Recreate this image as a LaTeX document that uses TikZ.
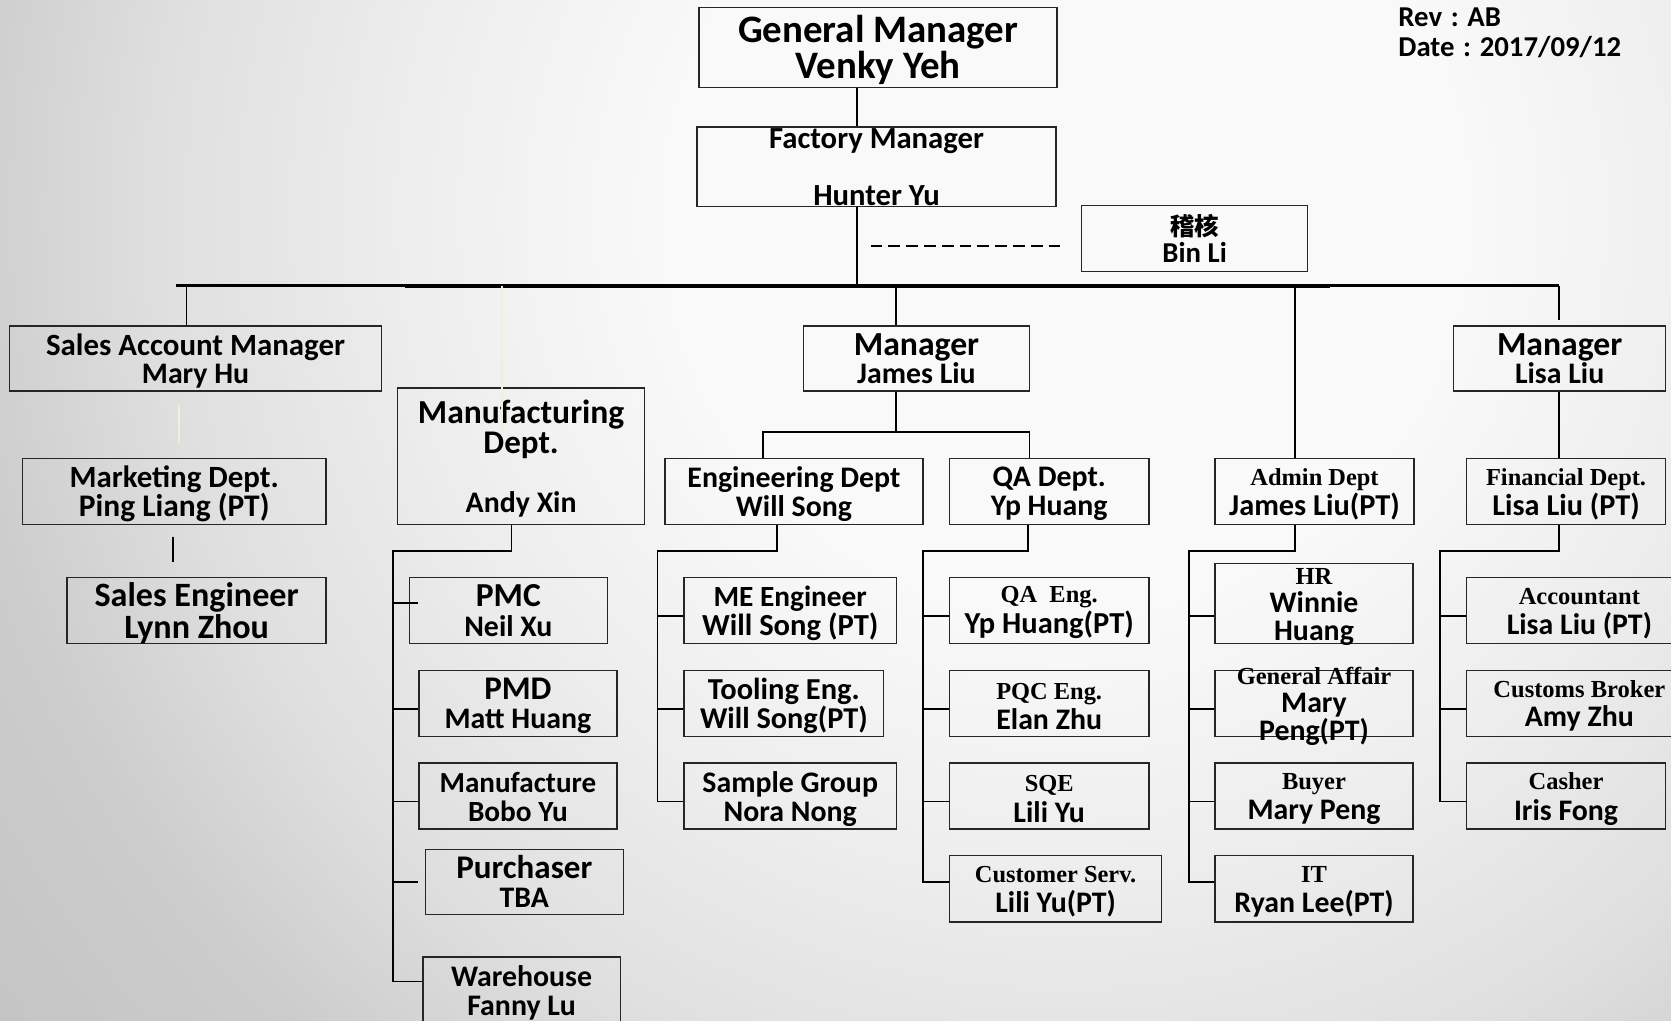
\documentclass[tikz,border=0pt]{standalone}
\usepackage{fontspec}
\setmainfont{Carlito}
\newfontfamily\serifb{Liberation Serif}
\newfontfamily\cjkf{Noto Sans CJK SC}
\definecolor{bgA}{gray}{0.975}
\definecolor{bgB}{gray}{0.93}
\definecolor{bgC}{gray}{0.875}
\definecolor{bgD}{gray}{0.80}
\definecolor{bgE}{gray}{0.765}
\definecolor{faintc}{RGB}{240,240,215}
\pgfdeclareradialshading{bgshade}{\pgfpoint{0bp}{0bp}}{color(0bp)=(bgA); color(6.8bp)=(bgA); color(11.1bp)=(bgB); color(15.2bp)=(bgC); color(18.75bp)=(bgD); color(23.2bp)=(bgE); color(50bp)=(bgE)}
\newcommand\myfs[2]{\fontsize{#1}{#2}\selectfont}
\newcommand\tsz[2]{{\fontsize{#1}{\the\baselineskip}\selectfont #2}}
\newcommand\rsz[2]{{\serifb\fontsize{#1}{\the\baselineskip}\selectfont #2}}
\newcommand\obox[7][]{%
  \node[boxst, minimum width=#5pt, minimum height=#6pt] (#2) at (#3,#4) {};
  \node[txt,#1] (#2t) at (#2.center) {#7};}
\begin{document}
\begin{tikzpicture}[x=1pt,y=-1pt,
  boxst/.style={draw=black!85, line width=1.3pt, inner sep=0pt},
  txt/.style={inner sep=0pt, align=center, font=\myfs{28}{27}\bfseries, text=black, yshift=-2.5pt},
  sertxt/.style={font=\myfs{28}{28.5}\bfseries, yshift=-0.25pt},
  conn/.style={draw=black, line width=1.7pt},
  busline/.style={draw=black, line width=2.2pt},
  faint/.style={draw=faintc, line width=1.2pt},
  dashline/.style={draw=black, line width=1.8pt, dash pattern=on 11pt off 5.7pt}]
\useasboundingbox (0,0) rectangle (1568,958);
\begin{scope}
\clip (0,0) rectangle (1568,958);
\shade[shading=bgshade] (-400,-1200) rectangle (2400,1600);
\end{scope}

% boxes
\obox[font=\myfs{36.5}{34}\bfseries]{gm}{824}{44.5}{336}{75}{General Manager\\Venky Yeh}
\obox[font=\myfs{28.8}{27}\bfseries, yshift=2pt]{fm}{822.5}{156.5}{337}{75}{Factory Manager\\\mbox{}\\Hunter Yu}
\obox[font=\myfs{27}{25}\bfseries, yshift=3pt]{aud}{1121}{224}{212}{62}{{\cjkf\fontsize{23}{25}\selectfont 稽核}\\Bin Li}
\obox[font=\myfs{28}{26}\bfseries]{sam}{183.5}{336.5}{349}{61}{\tsz{29}{Sales Account Manager}\\Mary Hu}
\obox[yshift=2.5pt]{mjl}{860}{336.5}{212}{61}{\tsz{31.6}{Manager}\\James Liu}
\obox[yshift=2.5pt]{mll}{1463.5}{336.5}{199}{61}{\tsz{31.6}{Manager}\\Lisa Liu}
\obox[font=\myfs{28}{28}\bfseries]{mfg}{489}{428}{232}{128}{\tsz{31.5}{Manufacturing}\\\tsz{31}{Dept.}\\\mbox{}\\Andy Xin}
\obox[font=\myfs{29}{27}\bfseries]{mkt}{163.5}{461}{285}{62}{Marketing Dept.\\\tsz{29.5}{Ping Liang (PT)}}
\obox[font=\myfs{32}{30}\bfseries]{se}{184.5}{573}{243}{62}{Sales Engineer\\Lynn Zhou}
\obox{eng}{745}{461}{242}{62}{Engineering Dept\\Will Song}
\obox{qa}{984.5}{461}{187}{62}{QA Dept.\\Yp Huang}
\obox[sertxt]{adm}{1233.5}{461}{187}{62}{\rsz{22.9}{Admin Dept}\\\tsz{28.5}{James Liu(PT)}}
\obox[sertxt]{fin}{1469.5}{461}{187}{62}{\rsz{22.9}{Financial Dept.}\\\tsz{28.4}{Lisa Liu (PT)}}
\obox[font=\myfs{28}{28}\bfseries, yshift=2.5pt]{pmc}{477}{573}{186}{62}{\tsz{31.5}{PMC}\\Neil Xu}
\obox{pmd}{486}{660}{186}{62}{\tsz{31}{PMD}\\Matt Huang}
\obox[yshift=1.5pt]{mfc}{486}{747}{186}{62}{\tsz{27.3}{Manufacture}\\\tsz{27.5}{Bobo Yu}}
\obox[font=\myfs{28}{28}\bfseries, yshift=3pt]{pur}{492}{827.5}{186}{61}{\tsz{31}{Purchaser}\\TBA}
\obox{wh}{489.5}{929}{185}{62}{Warehouse\\Fanny Lu}
\obox{me}{741.5}{573}{199}{62}{\tsz{27.5}{ME Engineer}\\\tsz{28.7}{Will Song (PT)}}
\obox{tool}{735.5}{660}{187}{62}{\tsz{28.6}{Tooling Eng.}\\\tsz{28.4}{Will Song(PT)}}
\obox{smp}{741.5}{747}{199}{62}{Sample Group\\Nora Nong}
\obox[sertxt, yshift=1pt]{qae}{984.5}{573}{187}{62}{\rsz{22.9}{QA\ \ Eng.}\\\tsz{28.6}{Yp Huang(PT)}}
\obox[sertxt]{pqc}{984.5}{660}{187}{62}{\rsz{22.9}{PQC Eng.}\\Elan Zhu}
\obox[sertxt]{sqe}{984.5}{747}{187}{62}{\rsz{22.9}{SQE}\\Lili Yu}
\obox[sertxt]{cs}{990.5}{834}{199}{62}{\rsz{22.9}{Customer Serv.}\\Lili Yu(PT)}
\obox[font=\myfs{28}{26}\bfseries, yshift=-0.5pt]{hr}{1233}{566.5}{186}{75}{\rsz{23}{HR}\\Winnie\\Huang}
\obox[font=\myfs{28}{26}\bfseries, yshift=-0.5pt]{ga}{1233}{660}{186}{62}{\rsz{23}{General Affair}\\Mary\\Peng(PT)}
\obox[sertxt]{buy}{1233}{747}{186}{62}{\rsz{23}{Buyer}\\Mary Peng}
\obox[sertxt]{it}{1233}{834}{186}{62}{\rsz{23}{IT}\\Ryan Lee(PT)}
\obox[sertxt]{acc}{1482}{573}{212}{62}{\rsz{23}{Accountant}\\Lisa Liu (PT)}
\obox[font=\myfs{28}{27}\bfseries, yshift=0pt]{cus}{1482}{660}{212}{62}{\rsz{23}{Customs Broker}\\Amy Zhu}
\obox[sertxt]{cash}{1469.5}{747}{187}{62}{\rsz{23}{Casher}\\Iris Fong}

\node[inner sep=0pt, anchor=west, align=left, font=\myfs{27}{28}\bfseries] (rev) at (1312,31) {Rev\hspace{.3em}:\hspace{.3em}AB\\Date\hspace{.3em}:\hspace{.3em}2017/09/12};

% top connectors
\coordinate (jtop) at (804,268);
\draw[conn] (gm.south -| jtop) -- (fm.north -| jtop);
\draw[conn] (fm.south -| jtop) -- (jtop);
\coordinate (dsA) at (817,231);
\draw[dashline, shorten >=15pt] (dsA) -- (dsA -| aud.west);
\coordinate (busL) at (165,268);
\coordinate (busR) at (1463,268);
\draw[busline] (busL) -- (busR);
\coordinate (busL2) at (380,269.6);
\coordinate (busR2) at (1248,269.6);
\draw[busline, line width=2pt] (busL2) -- (busR2);
\coordinate (dSam) at (175,268);
\draw[conn] (dSam) -- (dSam |- sam.north);
\coordinate (dMjl) at (841,268);
\draw[conn] (dMjl) -- (dMjl |- mjl.north);
\coordinate (dAdm) at (1215,268);
\draw[conn] (dAdm) -- (dAdm |- adm.north);
\draw[conn, shorten >=5pt] (busR) -- (busR |- mll.north);
\draw[conn] (mll.south -| busR) -- (fin.north -| busR);

% faint lines
\coordinate (fa1) at (471,268);
\coordinate (fa2) at (471,409);
\draw[faint] (fa1) -- (fa2);
\coordinate (fb1) at (168,380);
\coordinate (fb2) at (168,416);
\draw[faint] (fb1) -- (fb2);

% marketing - sales engineer
\coordinate (mkX) at (162,0);
\draw[conn, shorten <=11pt, shorten >=14pt] (mkt.south -| mkX) -- (se.north -| mkX);

% James Liu
\coordinate (mj1) at (841,405);
\coordinate (ejL) at (716,405);
\coordinate (ejR) at (966,405);
\draw[conn] (mjl.south -| mj1) -- (mj1);
\draw[conn] (ejL |- eng.north) -- (ejL) -- (ejR) -- (ejR |- qa.north);

% Manufacturing subtree
\coordinate (mfA) at (480,517);
\coordinate (mfS) at (369,517);
\coordinate (mfE) at (369,921);
\draw[conn] (mfg.south -| mfA) -- (mfA) -- (mfS) -- (mfE) -- (mfE -| wh.west);
\draw[conn] ([yshift=7pt]pmc.west -| mfS) -- ([yshift=7pt,xshift=9pt]pmc.west);
\draw[conn] ([yshift=-5pt]pmd.west -| mfS) -- ([yshift=-5pt]pmd.west);
\draw[conn] ([yshift=-5pt]mfc.west -| mfS) -- ([yshift=-5pt]mfc.west);
\draw[conn] ([yshift=-0.5pt]pur.west -| mfS) -- ([yshift=-0.5pt,xshift=-6pt]pur.west);

% Engineering subtree
\coordinate (egA) at (729,517);
\coordinate (egS) at (617,517);
\coordinate (egE) at (617,752);
\draw[conn] (eng.south -| egA) -- (egA) -- (egS) -- (egE) -- (egE -| smp.west);
\draw[conn] ([yshift=-5pt]me.west -| egS) -- ([yshift=-5pt]me.west);
\draw[conn] ([yshift=-5pt]tool.west -| egS) -- ([yshift=-5pt]tool.west);

% QA subtree
\coordinate (qaA) at (965,517);
\coordinate (qaS) at (866,517);
\coordinate (qaE) at (866,828);
\draw[conn] (qa.south -| qaA) -- (qaA) -- (qaS) -- (qaE) -- (qaE -| cs.west);
\draw[conn] ([yshift=-5pt]qae.west -| qaS) -- ([yshift=-5pt]qae.west);
\draw[conn] ([yshift=-5pt]pqc.west -| qaS) -- ([yshift=-5pt]pqc.west);
\draw[conn] ([yshift=-5pt]sqe.west -| qaS) -- ([yshift=-5pt]sqe.west);

% Admin subtree
\coordinate (adA) at (1215,517);
\coordinate (adS) at (1116,517);
\coordinate (adE) at (1116,828);
\draw[conn] (adm.south -| adA) -- (adA) -- (adS) -- (adE) -- (adE -| it.west);
\draw[conn] ([yshift=-11.5pt]hr.west -| adS) -- ([yshift=-11.5pt]hr.west);
\draw[conn] ([yshift=-5pt]ga.west -| adS) -- ([yshift=-5pt]ga.west);
\draw[conn] ([yshift=-5pt]buy.west -| adS) -- ([yshift=-5pt]buy.west);

% Financial subtree
\coordinate (fiA) at (1463,517);
\coordinate (fiS) at (1351,517);
\coordinate (fiE) at (1351,752);
\draw[conn] (fin.south -| fiA) -- (fiA) -- (fiS) -- (fiE) -- (fiE -| cash.west);
\draw[conn] ([yshift=-5pt]acc.west -| fiS) -- ([yshift=-5pt]acc.west);
\draw[conn] ([yshift=-5pt]cus.west -| fiS) -- ([yshift=-5pt]cus.west);
\end{tikzpicture}
\end{document}
